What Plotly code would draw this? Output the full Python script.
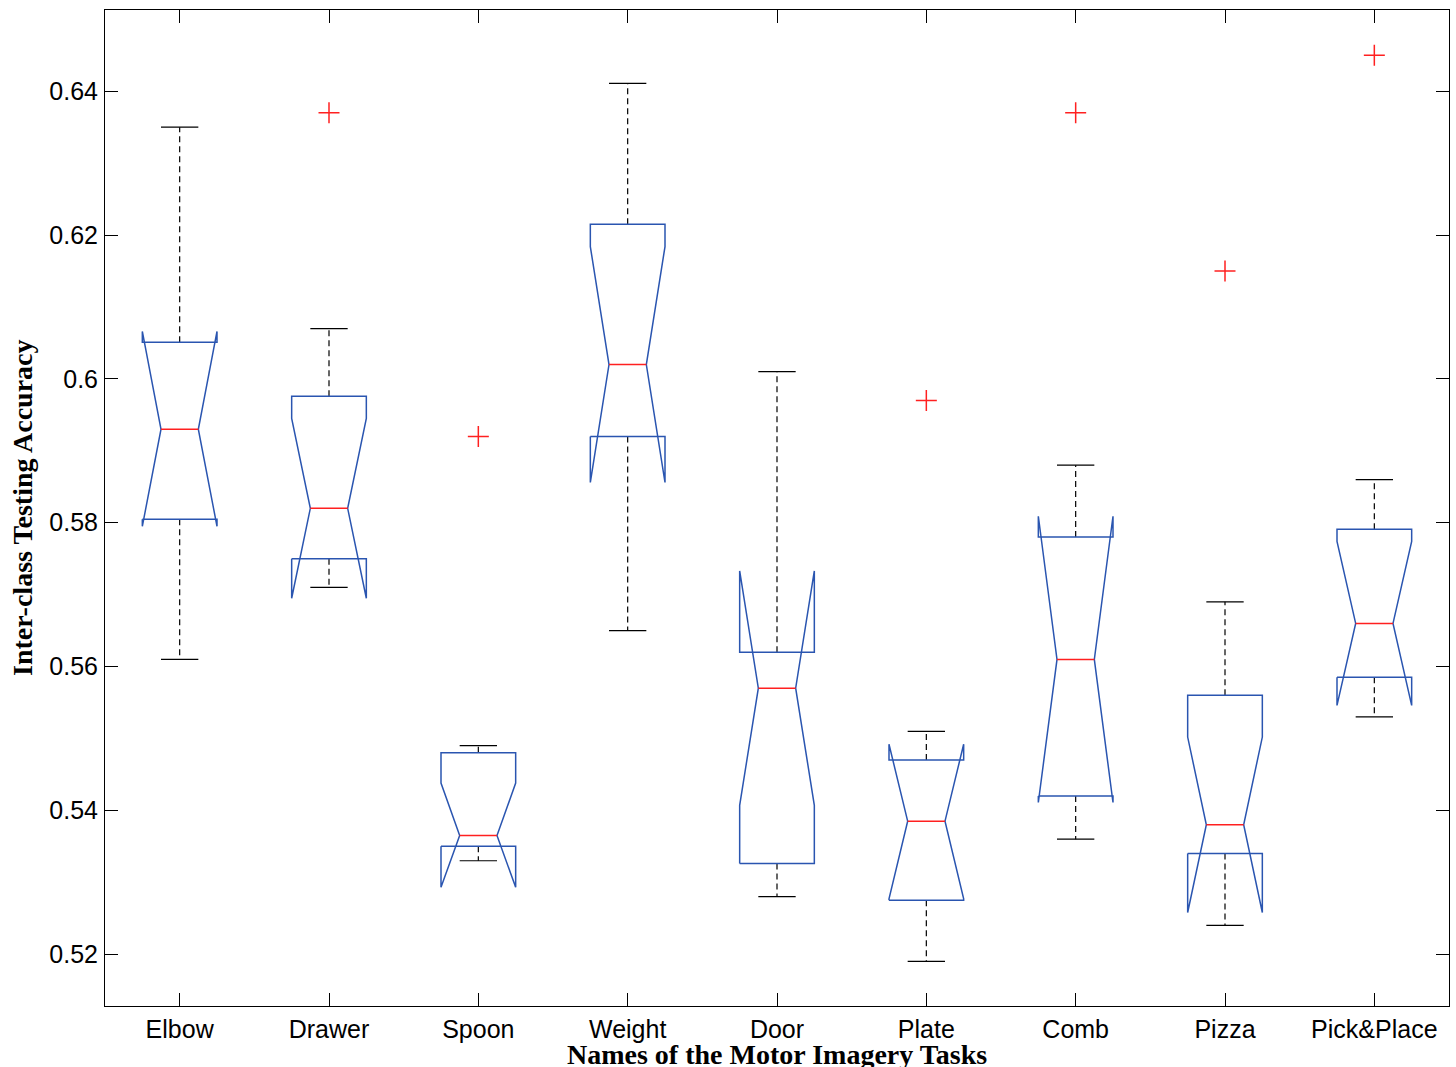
import plotly.graph_objects as go

tasks = ["Elbow", "Drawer", "Spoon", "Weight", "Door", "Plate", "Comb", "Pizza", "Pick&Place"]
whisker_low = [0.561, 0.571, 0.533, 0.565, 0.528, 0.519, 0.536, 0.524, 0.553]
q1 = [0.5805, 0.575, 0.535, 0.592, 0.5326, 0.5275, 0.542, 0.534, 0.5585]
notch_low = [0.5795, 0.5695, 0.5293, 0.5856, 0.5407, 0.5277, 0.5411, 0.5258, 0.5546]
median = [0.593, 0.582, 0.5365, 0.602, 0.557, 0.5385, 0.561, 0.538, 0.566]
notch_high = [0.6066, 0.5945, 0.5438, 0.6184, 0.5733, 0.5492, 0.5809, 0.5502, 0.5774]
q3 = [0.6051, 0.5976, 0.548, 0.6215, 0.562, 0.547, 0.578, 0.556, 0.5791]
whisker_high = [0.635, 0.607, 0.549, 0.6411, 0.601, 0.551, 0.588, 0.569, 0.586]
outlier_task = ["Drawer", "Spoon", "Plate", "Comb", "Pizza", "Pick&Place"]
outlier_value = [0.637, 0.592, 0.597, 0.637, 0.615, 0.645]

y_ticks = [0.52, 0.54, 0.56, 0.58, 0.60, 0.62, 0.64]
y_tick_text = ["0.52", "0.54", "0.56", "0.58", "0.6", "0.62", "0.64"]

W = 0.25   # half box width
NW = 0.125  # half notch width / cap width

pos = {t: i + 1 for i, t in enumerate(tasks)}

bx, by = [], []
mx, my = [], []
wx, wy = [], []
cx, cy = [], []
for i, t in enumerate(tasks):
    x = i + 1
    lb, rb = x - W, x + W
    nl, nr = x - NW, x + NW
    bx += [lb, lb, nl, lb, lb, rb, rb, nr, rb, rb, lb, None]
    by += [q1[i], notch_low[i], median[i], notch_high[i], q3[i], q3[i], notch_high[i], median[i], notch_low[i], q1[i], q1[i], None]
    mx += [nl, nr, None]
    my += [median[i], median[i], None]
    wx += [x, x, None, x, x, None]
    wy += [q3[i], whisker_high[i], None, q1[i], whisker_low[i], None]
    cx += [nl, nr, None, nl, nr, None]
    cy += [whisker_high[i], whisker_high[i], None, whisker_low[i], whisker_low[i], None]

fig = go.Figure()
fig.add_trace(go.Scatter(x=wx, y=wy, mode="lines", line=dict(color="black", width=1.2, dash="6px,4px"),
                         hoverinfo="skip", showlegend=False))
fig.add_trace(go.Scatter(x=cx, y=cy, mode="lines", line=dict(color="black", width=1.2),
                         hoverinfo="skip", showlegend=False))
fig.add_trace(go.Scatter(x=bx, y=by, mode="lines", line=dict(color="#2a55b0", width=1.5),
                         hoverinfo="skip", showlegend=False))
fig.add_trace(go.Scatter(x=mx, y=my, mode="lines", line=dict(color="#ff2020", width=1.5),
                         hoverinfo="skip", showlegend=False))
fig.add_trace(go.Scatter(x=[pos[t] for t in outlier_task], y=outlier_value, mode="markers",
                         marker=dict(symbol="cross-thin", size=15, line=dict(color="#ff2020", width=1.5)),
                         hoverinfo="skip", showlegend=False))

fig.update_layout(
    width=1456, height=1067,
    margin=dict(l=105, r=7, t=10, b=61),
    paper_bgcolor="white", plot_bgcolor="white",
    font=dict(family="Liberation Sans, Arial, sans-serif", size=25, color="black"),
    xaxis=dict(range=[0.5, 9.5], tickvals=list(range(1, 10)), ticktext=tasks,
               ticks="inside", ticklen=13, tickcolor="black", tickwidth=1,
               showline=True, linecolor="black", linewidth=1, mirror="ticks",
               showgrid=False, zeroline=False, ticklabelstandoff=1, automargin=False),
    yaxis=dict(range=[0.5128, 0.6513], tickvals=y_ticks, ticktext=y_tick_text,
               ticks="inside", ticklen=13, tickcolor="black", tickwidth=1,
               showline=True, linecolor="black", linewidth=1, mirror="ticks",
               showgrid=False, zeroline=False, ticklabelstandoff=1, automargin=False),
    annotations=[
        dict(text="<b>Names of the Motor Imagery Tasks</b>", xref="paper", yref="paper",
             x=0.5, y=0, yshift=-48, xanchor="center", yanchor="middle", showarrow=False,
             font=dict(family="Liberation Serif, Times New Roman, serif", size=28, color="black")),
        dict(text="<b>Inter-class Testing Accuracy</b>", xref="paper", yref="paper",
             x=0, y=0.5, xshift=-83, xanchor="center", yanchor="middle", textangle=-90, showarrow=False,
             font=dict(family="Liberation Serif, Times New Roman, serif", size=28, color="black")),
    ],
)

fig.write_html("out.html", config={"displayModeBar": False},
               post_script="document.body.style.margin='0px';document.body.style.overflow='hidden';")
